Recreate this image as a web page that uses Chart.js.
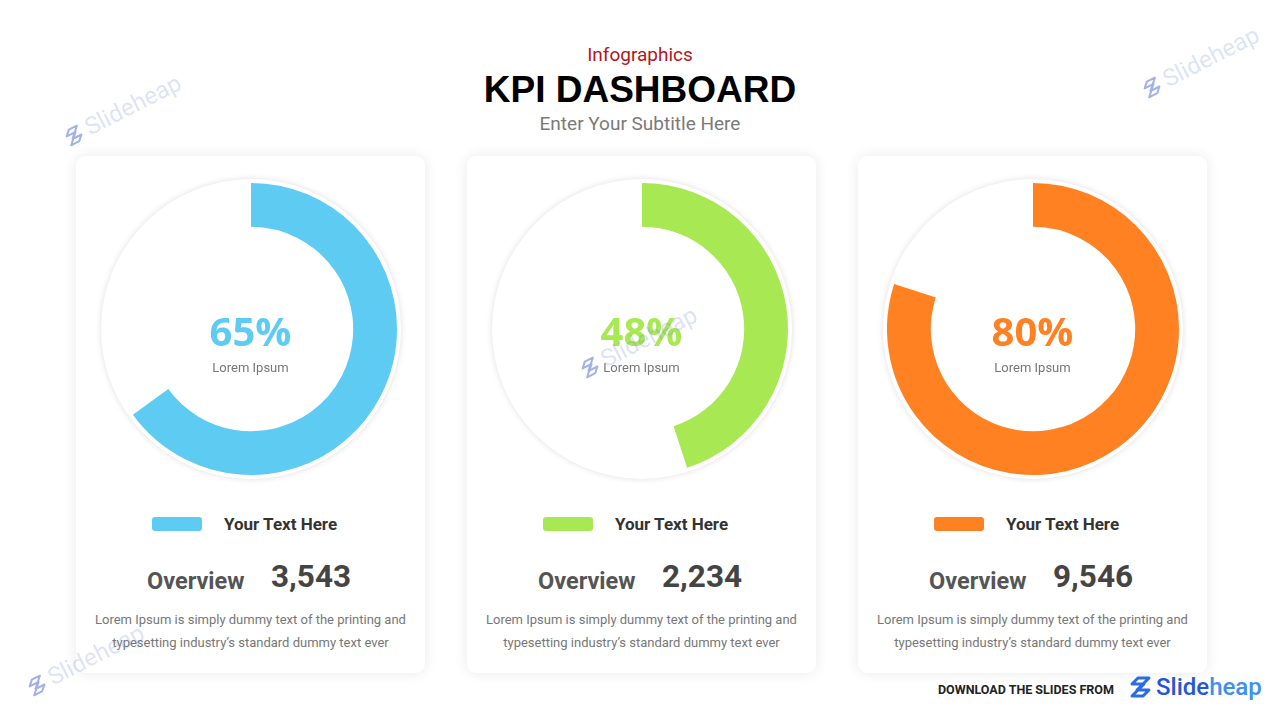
<!DOCTYPE html>
<html>
<head>
<meta charset="utf-8">
<script src="https://cdn.jsdelivr.net/npm/chart.js@4/dist/chart.umd.min.js"></script>
<style>
  html, body { margin: 0; padding: 0; }
  body { width: 1280px; height: 720px; position: relative; overflow: hidden; background: #fff; font-family: Roboto, sans-serif; }
  .abs { position: absolute; }
  .top1 { left: 0; width: 1280px; top: 44px; text-align: center; color: #b5161b; font-size: 19px; line-height: 22px; }
  .top2 { left: 0; width: 1280px; top: 68px; text-align: center; color: #000; font: bold 37px "Liberation Sans", Arial, sans-serif; line-height: 44px; }
  .top3 { left: 0; width: 1280px; top: 113px; text-align: center; color: #7a7a7a; font-size: 19px; line-height: 22px; }
  .card { top: 156px; width: 349px; height: 517px; background: #fff; border-radius: 9px; box-shadow: 0 0 14px rgba(0,0,0,0.09); }
  .ring { width: 300px; height: 300px; border-radius: 50%; background: #fff; box-shadow: 0 0 6px rgba(0,0,0,0.13); }
  .box { width: 292px; height: 292px; }
  .pct { width: 349px; text-align: center; font: bold 40px "Open Sans", sans-serif; line-height: 48px; }
  .sub { width: 349px; text-align: center; font-size: 13px; color: #777; line-height: 16px; }
  .swatch { width: 50px; height: 14px; border-radius: 3px; }
  .legend { font-weight: bold; font-size: 17px; color: #333; line-height: 20px; }
  .ov { font-weight: bold; font-size: 23.5px; color: #555; line-height: 26px; }
  .num { font-weight: bold; font-size: 31.5px; color: #444; line-height: 34px; }
  .para { width: 349px; text-align: center; font-size: 13px; color: #777; line-height: 23px; }
  .wm { color: rgba(100,125,215,0.22); font-size: 24px; transform-origin: left center; transform: rotate(-27deg); white-space: nowrap; display: flex; align-items: center; gap: 3px; }
  .foot { left: 938px; top: 682px; font: bold 12.5px Roboto, sans-serif; color: #222; }
  .logo { left: 1127px; top: 673px; display: flex; align-items: center; gap: 1px; font: 500 24px Roboto, sans-serif; }
</style>
</head>
<body>
<div class="abs top1">Infographics</div>
<div class="abs top2">KPI DASHBOARD</div>
<div class="abs top3">Enter Your Subtitle Here</div>

<div id="cards"></div>

<div class="abs foot">DOWNLOAD THE SLIDES FROM</div>
<div class="abs logo">
  <svg width="28" height="28" viewBox="0 0 28 28"><path d="M9 2 L20 2 L8 14 L20 14 L14 20 L3 20 L15 8 L3 8 Z" fill="none" stroke="#2b6be6" stroke-width="3" stroke-linejoin="round" transform="translate(2,3)"/></svg>
  <span style="color:#2456d6">Slide</span><span style="color:#3d8ff0;margin-left:-1px">heap</span>
</div>

<script>
const categories = ['Your Text Here', 'Your Text Here', 'Your Text Here'];
// printed labels vs. the arc actually drawn in the picture (middle arc is shorter than its label)
const percentLabels = ['65%', '48%', '80%'];
const arcValues = [65, 45, 80];
const overviewValues = ['3,543', '2,234', '9,546'];
const centerLabels = ['Lorem Ipsum', 'Lorem Ipsum', 'Lorem Ipsum'];
const colors = ['#5ecbf3', '#a8e853', '#ff8122'];
const paraLines = ['Lorem Ipsum is simply dummy text of the printing and', 'typesetting industry\u2019s standard dummy text ever'];

const wrap = document.getElementById('cards');

arcValues.forEach((v, i) => {
    const L = 76 + i * 391;
    wrap.insertAdjacentHTML('beforeend', `
    <div class="abs card" style="left:${L}px"></div>
    <div class="abs ring" style="left:${L + 25}px;top:179px"></div>
    <div class="abs box" style="left:${L + 29}px;top:183px"><canvas id="kpi-${i}" width="292" height="292"></canvas></div>
    <div class="abs pct" style="left:${L}px;top:307px;color:${colors[i]}">${percentLabels[i]}</div>
    <div class="abs sub" style="left:${L}px;top:360px">${centerLabels[i]}</div>
    <div class="abs swatch" style="left:${L + 76}px;top:517px;background:${colors[i]}"></div>
    <div class="abs legend" style="left:${L + 148}px;top:514px">${categories[i]}</div>
    <div class="abs ov" style="left:${L + 71}px;top:568px">Overview</div>
    <div class="abs num" style="left:${L + 195}px;top:560px">${overviewValues[i]}</div>
    <div class="abs para" style="left:${L}px;top:608px">${paraLines[0]}<br>${paraLines[1]}</div>
    `);

    new Chart(document.getElementById(`kpi-${i}`), {
        type: 'doughnut',
        data: {
            labels: [categories[i], 'Rest'],
            datasets: [{
                data: [v, 100 - v],
                backgroundColor: [colors[i], 'rgba(255,255,255,0)'],
                borderWidth: 0,
            }]
        },
        options: {
            responsive: false,
            animation: false,
            cutout: '70%',
            plugins: { legend: { display: false }, tooltip: { enabled: false } }
        }
    });
});

// watermarks
const wmSpots = [[64, 140], [1142, 92], [580, 372], [27, 690]];
wmSpots.forEach(([x, y]) => {
    document.body.insertAdjacentHTML('beforeend', `
    <div class="abs wm" style="left:${x}px;top:${y - 14}px">
      <svg width="22" height="22" viewBox="0 0 22 22"><path d="M7 1 L16 1 L6 11 L16 11 L11 16 L2 16 L12 6 L2 6 Z" fill="none" stroke="rgba(100,125,215,0.6)" stroke-width="2" stroke-linejoin="round" transform="translate(2,3)"/></svg>
      <span>Slideheap</span>
    </div>`);
});
</script>
</body>
</html>
